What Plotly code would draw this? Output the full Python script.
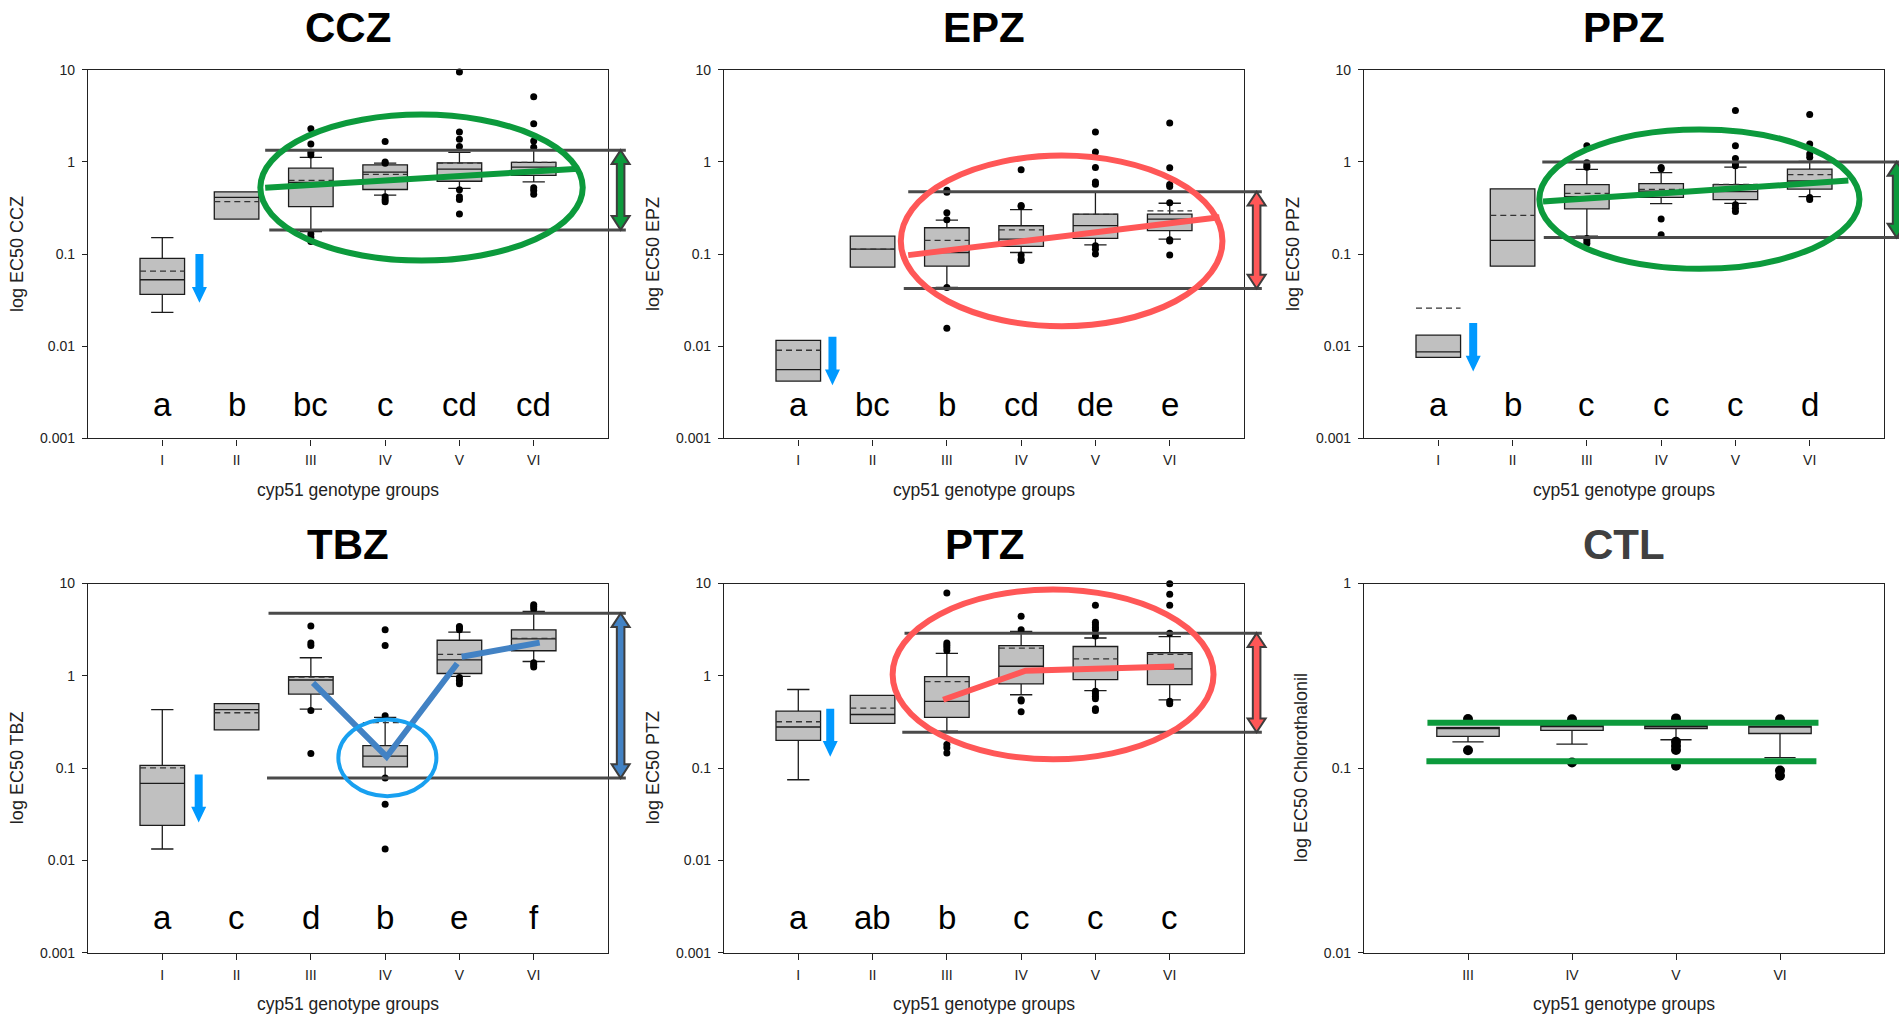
import math
import plotly.graph_objects as go

W, H = 1899, 1024

ROMAN6 = ["I", "II", "III", "IV", "V", "VI"]
ROMAN4 = ["III", "IV", "V", "VI"]

# ---------------- CCZ ----------------
CCZ_Q1 = [0.0365, 0.240, 0.328, 0.502, 0.617, 0.714]
CCZ_MED = [0.0527, 0.413, 0.600, 0.776, 0.836, 0.877]
CCZ_Q3 = [0.090, 0.474, 0.855, 0.929, 0.977, 0.990]
CCZ_LO = [0.0233, 0.240, 0.175, 0.437, 0.515, 0.607]
CCZ_HI = [0.151, 0.474, 1.12, 0.97, 1.27, 1.35]
CCZ_MEAN = [0.0653, 0.371, 0.632, 0.733, 0.970, 0.990]
CCZ_OUT = [[], [], [2.29, 1.56, 1.27, 1.19, 0.165, 0.152, 0.137],
           [1.66, 1.0, 0.97, 0.42, 0.39, 0.37],
           [9.45, 2.11, 1.76, 1.47, 0.50, 0.42, 0.39, 0.272],
           [5.1, 2.59, 1.69, 1.44, 0.524, 0.49, 0.445]]
CCZ_LETTERS = ["a", "b", "bc", "c", "cd", "cd"]

# ---------------- EPZ ----------------
EPZ_Q1 = [0.00419, 0.0721, 0.074, 0.121, 0.148, 0.180]
EPZ_MED = [0.00559, 0.113, 0.104, 0.145, 0.204, 0.240]
EPZ_Q3 = [0.0116, 0.157, 0.193, 0.203, 0.272, 0.272]
EPZ_LO = [0.00419, 0.0721, 0.0434, 0.104, 0.126, 0.145]
EPZ_HI = [0.0116, 0.157, 0.234, 0.303, 0.467, 0.356]
EPZ_MEAN = [0.00906, 0.113, 0.141, 0.183, 0.270, 0.295]
EPZ_OUT = [[], [], [0.494, 0.468, 0.281, 0.236, 0.0434, 0.0157],
           [0.822, 0.336, 0.328, 0.098, 0.0885, 0.085],
           [2.11, 1.28, 0.871, 0.607, 0.573, 0.123, 0.113, 0.100],
           [2.65, 0.866, 0.57, 0.54, 0.36, 0.143, 0.139, 0.098]]
EPZ_LETTERS = ["a", "bc", "b", "cd", "de", "e"]

# ---------------- PPZ ----------------
PPZ_Q1 = [0.00757, 0.074, 0.310, 0.413, 0.390, 0.507]
PPZ_MED = [0.00869, 0.141, 0.420, 0.482, 0.475, 0.621]
PPZ_Q3 = [0.0132, 0.511, 0.568, 0.582, 0.568, 0.836]
PPZ_LO = [0.00757, 0.074, 0.157, 0.353, 0.355, 0.420]
PPZ_HI = [0.0132, 0.511, 0.828, 0.764, 0.877, 1.01]
PPZ_MEAN = [0.0259, 0.263, 0.455, 0.503, 0.570, 0.728]
PPZ_OUT = [[], [], [1.50, 0.977, 0.914, 0.877, 0.148, 0.139, 0.130],
           [0.871, 0.843, 0.240, 0.162],
           [3.62, 1.50, 1.09, 0.96, 0.91, 0.342, 0.315, 0.290],
           [3.26, 1.56, 1.22, 1.12, 0.41, 0.39]]
PPZ_LETTERS = ["a", "b", "c", "c", "c", "d"]

# ---------------- TBZ ----------------
TBZ_Q1 = [0.024, 0.26, 0.634, 0.103, 1.06, 1.87]
TBZ_MED = [0.0684, 0.431, 0.901, 0.135, 1.49, 2.51]
TBZ_Q3 = [0.107, 0.50, 0.98, 0.175, 2.43, 3.15]
TBZ_LO = [0.0133, 0.26, 0.435, 0.079, 0.986, 1.43]
TBZ_HI = [0.431, 0.50, 1.57, 0.354, 2.98, 5.0]
TBZ_MEAN = [0.1005, 0.398, 0.97, 0.311, 1.71, 2.55]
TBZ_OUT = [[], [], [3.47, 2.27, 2.13, 0.42, 0.144],
           [3.16, 2.13, 0.37, 0.078, 0.0406, 0.0133],
           [3.43, 3.29, 3.16, 0.96, 0.89, 0.82],
           [5.9, 5.6, 5.3, 1.39, 1.32, 1.25]]
TBZ_LETTERS = ["a", "c", "d", "b", "e", "f"]

# ---------------- PTZ ----------------
PTZ_Q1 = [0.200, 0.305, 0.354, 0.817, 0.91, 0.805]
PTZ_MED = [0.279, 0.381, 0.530, 1.27, 1.20, 1.19]
PTZ_Q3 = [0.414, 0.614, 0.980, 2.13, 2.08, 1.78]
PTZ_LO = [0.0748, 0.305, 0.251, 0.624, 0.693, 0.55]
PTZ_HI = [0.711, 0.614, 1.75, 3.03, 2.57, 2.66]
PTZ_MEAN = [0.318, 0.446, 0.867, 2.0, 1.53, 1.71]
PTZ_OUT = [[], [], [7.9, 2.27, 2.15, 2.01, 1.88, 0.180, 0.166, 0.146],
           [4.41, 3.15, 0.55, 0.533, 0.407],
           [5.82, 3.81, 3.57, 3.34, 3.15, 2.7, 0.68, 0.64, 0.60, 0.565, 0.44, 0.42],
           [9.93, 7.64, 5.82, 2.9, 0.53, 0.50]]
PTZ_LETTERS = ["a", "ab", "b", "c", "c", "c"]

# ---------------- Chlorothalonil ----------------
CTL_Q1 = [0.1486, 0.160, 0.164, 0.154]
CTL_MED = [0.166, 0.170, 0.170, 0.1687]
CTL_Q3 = [0.166, 0.170, 0.170, 0.1687]
CTL_LO = [0.1386, 0.135, 0.1425, 0.114]
CTL_HI = [0.166, 0.170, 0.170, 0.1687]
CTL_OUT = [[0.1845, 0.125], [0.184, 0.1074],
           [0.186, 0.139, 0.132, 0.1255, 0.103], [0.184, 0.097, 0.091]]

# ---------------- overlay marks (data units) ----------------
CCZ_BAND_Y = [1.34, 0.183]
CCZ_BAND_X0 = [2.385, 2.44]
CCZ_TREND_X = [2.385, 6.60]
CCZ_TREND_Y = [0.524, 0.841]
CCZ_RING_X = [2.32, 6.66]
CCZ_RING_Y = [0.085, 3.26]
CCZ_DROP = [1.5, 0.1, 0.0297]

EPZ_BAND_Y = [0.474, 0.0423]
EPZ_BAND_X0 = [2.48, 2.42]
EPZ_TREND_X = [2.48, 6.67]
EPZ_TREND_Y = [0.0975, 0.251]
EPZ_RING_X = [2.38, 6.71]
EPZ_RING_Y = [0.0165, 1.17]
EPZ_DROP = [1.46, 0.0127, 0.00377]

PPZ_BAND_Y = [1.0, 0.151]
PPZ_BAND_X0 = [2.40, 2.42]
PPZ_TREND_X = [2.41, 6.52]
PPZ_TREND_Y = [0.371, 0.628]
PPZ_RING_X = [2.36, 6.67]
PPZ_RING_Y = [0.0692, 2.25]
PPZ_DROP = [1.47, 0.0179, 0.00532]

TBZ_BAND_Y = [4.76, 0.078]
TBZ_BAND_X0 = [2.43, 2.41]
TBZ_TREND_X = [[3.03, 4.02, 4.97], [5.03, 6.08]]
TBZ_TREND_Y = [[0.838, 0.133, 1.36], [1.61, 2.29]]
TBZ_RING_X = [3.37, 4.69]
TBZ_RING_Y = [0.0497, 0.337]
TBZ_DROP = [1.49, 0.0853, 0.0258]

PTZ_BAND_Y = [2.9, 0.245]
PTZ_BAND_X0 = [2.43, 2.40]
PTZ_TREND_X = [2.95, 4.06, 6.06]
PTZ_TREND_Y = [0.551, 1.135, 1.26]
PTZ_RING_X = [2.27, 6.59]
PTZ_RING_Y = [0.1245, 8.63]
PTZ_DROP = [1.43, 0.44, 0.133]

CTL_LINE_Y = [0.176, 0.109]
CTL_LINE_X0 = [0.61, 0.60]
CTL_LINE_X1 = [4.37, 4.35]

# ---------------- styling ----------------
FONT = "Liberation Sans, Arial, sans-serif"
BOX_FILL = "#c0c0c0"
BOX_LINE = "#1c1c1c"
MEAN_LINE = "#333333"
GREEN = "#0c9a3c"
RED = "#ff5757"
STEEL = "#4282c4"
SKY = "#18a0f0"
DROP_BLUE = "#0099ff"
BAND_GREY = "#4a4a4a"
BOX_W = 0.6

COL_PX = [(88, 608), (724, 1244), (1364, 1884)]
ROW_PX = [(62.7, 437.3), (584.7, 959.7)]
TITLE_PX = [20, 545]
XTITLE_PX = [490, 1012]

panels = [
    dict(title="CCZ", ytitle="log EC50 CCZ", row=0, col=0, groups=ROMAN6,
         q1=CCZ_Q1, med=CCZ_MED, q3=CCZ_Q3, lo=CCZ_LO, hi=CCZ_HI, mean=CCZ_MEAN,
         out=CCZ_OUT, letters=CCZ_LETTERS, yr=(-3, 1),
         band=(CCZ_BAND_Y, CCZ_BAND_X0), trend=[(CCZ_TREND_X, CCZ_TREND_Y)], tcolor=GREEN,
         ring=(CCZ_RING_X, CCZ_RING_Y), rcolor=GREEN, rwidth=6, drop=CCZ_DROP,
         dbl=GREEN),
    dict(title="EPZ", ytitle="log EC50 EPZ", row=0, col=1, groups=ROMAN6,
         q1=EPZ_Q1, med=EPZ_MED, q3=EPZ_Q3, lo=EPZ_LO, hi=EPZ_HI, mean=EPZ_MEAN,
         out=EPZ_OUT, letters=EPZ_LETTERS, yr=(-3, 1),
         band=(EPZ_BAND_Y, EPZ_BAND_X0), trend=[(EPZ_TREND_X, EPZ_TREND_Y)], tcolor=RED,
         ring=(EPZ_RING_X, EPZ_RING_Y), rcolor=RED, rwidth=6, drop=EPZ_DROP,
         dbl=RED),
    dict(title="PPZ", ytitle="log EC50 PPZ", row=0, col=2, groups=ROMAN6,
         q1=PPZ_Q1, med=PPZ_MED, q3=PPZ_Q3, lo=PPZ_LO, hi=PPZ_HI, mean=PPZ_MEAN,
         out=PPZ_OUT, letters=PPZ_LETTERS, yr=(-3, 1),
         band=(PPZ_BAND_Y, PPZ_BAND_X0), trend=[(PPZ_TREND_X, PPZ_TREND_Y)], tcolor=GREEN,
         ring=(PPZ_RING_X, PPZ_RING_Y), rcolor=GREEN, rwidth=6, drop=PPZ_DROP,
         dbl=GREEN),
    dict(title="TBZ", ytitle="log EC50 TBZ", row=1, col=0, groups=ROMAN6,
         q1=TBZ_Q1, med=TBZ_MED, q3=TBZ_Q3, lo=TBZ_LO, hi=TBZ_HI, mean=TBZ_MEAN,
         out=TBZ_OUT, letters=TBZ_LETTERS, yr=(-3, 1),
         band=(TBZ_BAND_Y, TBZ_BAND_X0),
         trend=list(zip(TBZ_TREND_X, TBZ_TREND_Y)), tcolor=STEEL,
         ring=(TBZ_RING_X, TBZ_RING_Y), rcolor=SKY, rwidth=4, drop=TBZ_DROP,
         dbl=STEEL),
    dict(title="PTZ", ytitle="log EC50 PTZ", row=1, col=1, groups=ROMAN6,
         q1=PTZ_Q1, med=PTZ_MED, q3=PTZ_Q3, lo=PTZ_LO, hi=PTZ_HI, mean=PTZ_MEAN,
         out=PTZ_OUT, letters=PTZ_LETTERS, yr=(-3, 1),
         band=(PTZ_BAND_Y, PTZ_BAND_X0), trend=[(PTZ_TREND_X, PTZ_TREND_Y)], tcolor=RED,
         ring=(PTZ_RING_X, PTZ_RING_Y), rcolor=RED, rwidth=6, drop=PTZ_DROP,
         dbl=RED),
    dict(title="CTL", ytitle="log EC50 Chlorothalonil", row=1, col=2, groups=ROMAN4,
         q1=CTL_Q1, med=CTL_MED, q3=CTL_Q3, lo=CTL_LO, hi=CTL_HI, mean=None,
         out=CTL_OUT, letters=None, yr=(-2, 0)),
]

fig = go.Figure()
layout = dict(width=W, height=H, margin=dict(l=0, r=0, t=0, b=0),
              paper_bgcolor="white", plot_bgcolor="white", showlegend=False,
              font=dict(family=FONT, color="#222"))
shapes = []
annotations = []


def to_px(p, xv):
    d0, d1 = p["xd"]
    r0, r1 = p["xr"]
    return d0 + (xv - r0) / (r1 - r0) * (d1 - d0)


def to_py(p, yv):
    d0, d1 = p["yd"]
    l0, l1 = p["yr"]
    return d0 + (math.log10(yv) - l0) / (l1 - l0) * (d1 - d0)


def poly(points):
    return "M " + " L ".join(f"{x:.5f},{y:.5f}" for x, y in points) + " Z"


for i, p in enumerate(panels, start=1):
    xa = "x" if i == 1 else f"x{i}"
    ya = "y" if i == 1 else f"y{i}"
    n = len(p["groups"])
    pos = list(range(1, n + 1))
    a, b = COL_PX[p["col"]]
    t, bt = ROW_PX[p["row"]]
    p["xd"] = [a / W, b / W]
    p["yd"] = [1 - bt / H, 1 - t / H]
    p["xr"] = (0, n + 1)

    fig.add_trace(go.Box(x=pos, q1=p["q1"], median=p["med"], q3=p["q3"],
                         lowerfence=p["lo"], upperfence=p["hi"], width=BOX_W,
                         whiskerwidth=0.5, fillcolor=BOX_FILL,
                         line=dict(color=BOX_LINE, width=1.3),
                         boxpoints=False, hoverinfo="skip", xaxis=xa, yaxis=ya))

    # dashed mean lines across each box
    if p["mean"]:
        mx, my = [], []
        for g, m in zip(pos, p["mean"]):
            mx += [g - BOX_W / 2, g + BOX_W / 2, None]
            my += [m, m, None]
        fig.add_trace(go.Scatter(x=mx, y=my, mode="lines", hoverinfo="skip",
                                 line=dict(color=MEAN_LINE, width=1.3, dash="6px,4px"),
                                 xaxis=xa, yaxis=ya))

    ox = [pos[j] for j, vals in enumerate(p["out"]) for _ in vals]
    oy = [v for vals in p["out"] for v in vals]
    fig.add_trace(go.Scatter(x=ox, y=oy, mode="markers", cliponaxis=False,
                             marker=dict(color="black", size=10 if p["title"] == "CTL" else 7),
                             hoverinfo="skip", xaxis=xa, yaxis=ya))

    ticks = list(range(p["yr"][0], p["yr"][1] + 1))
    layout["xaxis" if i == 1 else f"xaxis{i}"] = dict(
        domain=p["xd"], range=list(p["xr"]), anchor=ya, tickvals=pos, ticktext=p["groups"],
        showline=True, mirror=True, linecolor="#222", linewidth=1.2, ticks="outside",
        ticklen=6, tickcolor="#222", tickwidth=1.2, showgrid=False, zeroline=False,
        ticklabelstandoff=3, tickfont=dict(size=14, color="#222"))
    layout["yaxis" if i == 1 else f"yaxis{i}"] = dict(
        domain=p["yd"], type="log", range=list(p["yr"]), anchor=xa,
        tickvals=[10 ** k for k in ticks], ticktext=[f"{10 ** k:g}" for k in ticks],
        showline=True, mirror=True, linecolor="#222", linewidth=1.2, ticks="outside",
        ticklen=5, tickcolor="#222", tickwidth=1.2, showgrid=False, zeroline=False,
        ticklabelstandoff=4, tickfont=dict(size=14, color="#222"))

    # panel title and axis titles
    cx = (p["xd"][0] + p["xd"][1]) / 2
    annotations.append(dict(text=f"<b>{p['title']}</b>", xref="paper", yref="paper",
                            x=cx, y=1 - TITLE_PX[p["row"]] / H, borderpad=0,
                            showarrow=False, xanchor="center", yanchor="middle",
                            font=dict(size=42, color="#404040" if p["title"] == "CTL" else "black")))
    annotations.append(dict(text="cyp51 genotype groups", xref="paper", yref="paper",
                            x=cx, y=1 - XTITLE_PX[p["row"]] / H,
                            showarrow=False, xanchor="center", yanchor="middle",
                            font=dict(size=17.5, color="#222")))
    ty = (p["yd"][0] + p["yd"][1]) / 2
    off = 63 if p["title"] == "CTL" else 71
    annotations.append(dict(text=p["ytitle"], xref="paper", yref="paper",
                            x=(a - off) / W, y=ty, textangle=-90,
                            showarrow=False, xanchor="center", yanchor="middle",
                            font=dict(size=18, color="#222")))

    # significance letters
    if p["letters"]:
        for g, s in zip(pos, p["letters"]):
            annotations.append(dict(text=s, xref=xa, yref=ya, x=g,
                                    y=-2.63 if p["row"] == 0 else -2.62,
                                    showarrow=False, xanchor="center", yanchor="middle",
                                    font=dict(size=33, color="black")))

    if p["title"] == "CTL":
        for yv, x0, x1 in zip(CTL_LINE_Y, CTL_LINE_X0, CTL_LINE_X1):
            shapes.append(dict(type="line", xref="paper", yref="paper",
                               x0=to_px(p, x0), x1=to_px(p, x1),
                               y0=to_py(p, yv), y1=to_py(p, yv),
                               line=dict(color=GREEN, width=6)))
        continue

    # trend lines
    for tx, tyv in p["trend"]:
        fig.add_trace(go.Scatter(x=tx, y=tyv, mode="lines", hoverinfo="skip",
                                 line=dict(color=p["tcolor"], width=6),
                                 xaxis=xa, yaxis=ya))

    # reference band lines reaching past the frame
    band_y, band_x0 = p["band"]
    x_end = to_px(p, 7.24)
    for yv, x0 in zip(band_y, band_x0):
        shapes.append(dict(type="line", xref="paper", yref="paper",
                           x0=to_px(p, x0), x1=x_end, y0=to_py(p, yv), y1=to_py(p, yv),
                           line=dict(color=BAND_GREY, width=3)))

    # ellipse around the resistant groups
    rx, ry = p["ring"]
    shapes.append(dict(type="circle", xref="paper", yref="paper",
                       x0=to_px(p, rx[0]), x1=to_px(p, rx[1]),
                       y0=to_py(p, ry[0]), y1=to_py(p, ry[1]),
                       line=dict(color=p["rcolor"], width=p["rwidth"])))

    # double-headed range arrow
    ax = to_px(p, 7.17)
    yt, yb = to_py(p, band_y[0]), to_py(p, band_y[1])
    hw, sw, hl = 9 / W, 3.8 / W, 14 / H
    pts = [(ax, yt), (ax + hw, yt - hl), (ax + sw, yt - hl), (ax + sw, yb + hl),
           (ax + hw, yb + hl), (ax, yb), (ax - hw, yb + hl), (ax - sw, yb + hl),
           (ax - sw, yt - hl), (ax - hw, yt - hl)]
    shapes.append(dict(type="path", xref="paper", yref="paper", path=poly(pts),
                       fillcolor=p["dbl"], line=dict(color="#3d3d3d", width=2)))

    # downward arrow beside group I
    dx, dtop, dtip = p["drop"]
    ax = to_px(p, dx)
    yt, yb = to_py(p, dtop), to_py(p, dtip)
    hw, sw, hl = 7.5 / W, 4 / W, 16 / H
    pts = [(ax - sw, yt), (ax + sw, yt), (ax + sw, yb + hl), (ax + hw, yb + hl),
           (ax, yb), (ax - hw, yb + hl), (ax - sw, yb + hl)]
    shapes.append(dict(type="path", xref="paper", yref="paper", path=poly(pts),
                       fillcolor=DROP_BLUE, line=dict(width=0)))

layout["shapes"] = shapes
layout["annotations"] = annotations
fig.update_layout(**layout)
fig.write_html("out.html")
